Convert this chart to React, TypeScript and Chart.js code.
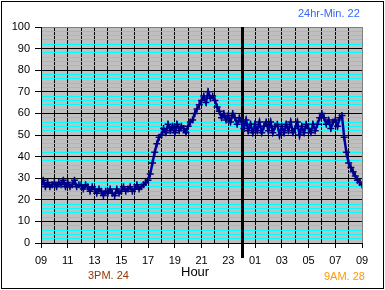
import React, { useEffect, useRef } from 'react';
import { Chart, registerables } from 'chart.js';

Chart.register(...registerables);

// Time axis: readings every 10 minutes from 09:00 to 09:00 next day
const startHour = 9;
const stepMinutes = 10;

// Temperature readings (one row per hour, 6 readings each)
const readings: number[] = [
  27, 29, 26, 28, 26, 27, // 09
  28, 26, 28, 27, 29, 26, // 10
  28, 26, 27, 29, 26, 27, // 11
  27, 25, 27, 26, 24, 26, // 12
  25, 23, 25, 24, 22, 24, // 13
  23, 25, 23, 22, 25, 23, // 14
  24, 26, 24, 25, 26, 24, // 15
  25, 27, 25, 26, 27, 28, // 16
  29, 32, 37, 42, 46, 49, // 17
  50, 53, 51, 55, 52, 54, // 18
  51, 55, 52, 54, 53, 51, // 19
  54, 56, 57, 60, 62, 64, // 20
  66, 68, 65, 70, 67, 68, // 21
  66, 63, 61, 58, 60, 57, // 22
  59, 56, 60, 58, 55, 58, // 23
  56, 53, 57, 52, 55, 51, // 00
  55, 52, 56, 51, 54, 56, // 01
  52, 56, 51, 54, 55, 50, // 02
  54, 51, 55, 52, 56, 51, // 03
  53, 56, 50, 54, 51, 55, // 04
  53, 51, 55, 52, 55, 58, // 05
  60, 58, 55, 57, 53, 56, // 06
  57, 54, 58, 59, 49, 42, // 07
  37, 35, 33, 31, 29, 28, // 08
  27, // 09
];

const yMin = 0;
const yMax = 100;
const yLabelEvery = 10;
const xSpanHours = 24;

const titleText = '24hr-Min. 22';
const leftNote = '3PM. 24';
const rightNote = '9AM. 28';
const axisTitle = 'Hour';

const pad2 = (n: number) => (n < 10 ? '0' + n : String(n));

export default function App() {
  const canvasRef = useRef<HTMLCanvasElement | null>(null);

  useEffect(() => {
    const canvas = canvasRef.current;
    if (!canvas) return;

    const points = readings.map((v, i) => ({ x: (i * stepMinutes) / 60, y: v }));
    const midnight = 24 - startHour;

    const bgPlugin = {
      id: 'plotBg',
      beforeDraw(chart: any) {
        const { ctx, chartArea } = chart;
        ctx.save();
        ctx.fillStyle = '#C0C0C0';
        ctx.fillRect(chartArea.left, chartArea.top, chartArea.right - chartArea.left, chartArea.bottom - chartArea.top);
        ctx.restore();
      },
    };

    const midnightPlugin = {
      id: 'midnightLine',
      beforeDatasetsDraw(chart: any) {
        const { ctx, chartArea } = chart;
        const x = Math.round(chart.scales.x.getPixelForValue(midnight)) + 0.5;
        ctx.save();
        ctx.strokeStyle = '#000000';
        ctx.lineWidth = 3;
        ctx.beginPath();
        ctx.moveTo(x, chartArea.top);
        ctx.lineTo(x, chartArea.bottom + 15);
        ctx.stroke();
        ctx.restore();
      },
    };

    const tickFont = { family: '"Liberation Sans", Arial, sans-serif', size: 11 };

    const chart = new Chart(canvas, {
      type: 'line',
      data: {
        datasets: [
          {
            data: points,
            borderColor: '#0000A8',
            borderWidth: 2.5,
            pointStyle: 'cross',
            pointRadius: 3.5,
            pointBorderColor: '#000080',
            pointBorderWidth: 1.5,
            pointBackgroundColor: '#000080',
            tension: 0,
            fill: false,
          },
        ],
      },
      options: {
        responsive: false,
        animation: false,
        events: [],
        layout: { padding: { left: 0, top: 27, right: 23, bottom: 0 } },
        plugins: { legend: { display: false }, tooltip: { enabled: false }, title: { display: false } },
        scales: {
          x: {
            type: 'linear',
            min: 0,
            max: xSpanHours,
            afterFit(scale: any) {
              scale.height = 47;
            },
            border: { display: true, color: '#000000', width: 1 },
            grid: {
              color: (ctx: any) => (ctx.tick && ctx.tick.value === xSpanHours ? '#808080' : '#000000'),
              lineWidth: 1,
              tickLength: 5,
              tickColor: (ctx: any) => (ctx.tick && ctx.tick.value % 2 === 0 ? '#000000' : 'rgba(0,0,0,0)'),
            },
            ticks: {
              stepSize: 1,
              autoSkip: false,
              maxRotation: 0,
              minRotation: 0,
              color: '#000000',
              font: tickFont,
              padding: 6,
              callback: (v: any) => (Number(v) % 2 === 0 ? pad2((startHour + Number(v)) % 24) : ''),
            },
          },
          y: {
            type: 'linear',
            min: yMin,
            max: yMax,
            afterFit(scale: any) {
              scale.width = 41;
            },
            border: { display: true, color: '#000000', width: 1 },
            grid: {
              color: (ctx: any) => {
                const v = ctx.tick ? ctx.tick.value : 0;
                if (v === yMax) return '#808080';
                return v % yLabelEvery === 0 ? '#000000' : '#00FFFF';
              },
              lineWidth: 1,
              tickLength: 6,
              tickColor: (ctx: any) => (ctx.tick && ctx.tick.value % yLabelEvery === 0 ? '#000000' : 'rgba(0,0,0,0)'),
            },
            ticks: {
              stepSize: 2,
              autoSkip: false,
              color: '#000000',
              font: tickFont,
              padding: 5,
              callback: (v: any) => (Number(v) % yLabelEvery === 0 ? String(v) : ''),
            },
          },
        },
      },
      plugins: [bgPlugin, midnightPlugin],
    } as any);

    return () => chart.destroy();
  }, []);

  const textBase: React.CSSProperties = {
    position: 'absolute',
    fontFamily: '"Liberation Sans", Arial, sans-serif',
    fontSize: 11,
    lineHeight: '13px',
    whiteSpace: 'nowrap',
  };

  return (
    <div style={{ position: 'absolute', left: 0, top: 0, width: 385, height: 290, background: '#FFFFFF' }}>
      <canvas ref={canvasRef} width={385} height={290} style={{ position: 'absolute', left: 0, top: 0 }} />
      <div
        style={{
          position: 'absolute',
          left: 1,
          top: 1,
          width: 383,
          height: 288,
          border: '1px solid #000000',
          boxSizing: 'border-box',
          pointerEvents: 'none',
        }}
      />
      <div style={{ ...textBase, left: 298, top: 7, color: '#3366FF' }}>{titleText}</div>
      <div style={{ ...textBase, left: 88, top: 269, color: '#993300' }}>{leftNote}</div>
      <div style={{ ...textBase, left: 324, top: 270, color: '#FF9900' }}>{rightNote}</div>
      <div style={{ ...textBase, fontSize: 13, lineHeight: '15px', left: 181, top: 264, color: '#000000' }}>{axisTitle}</div>
    </div>
  );
}
